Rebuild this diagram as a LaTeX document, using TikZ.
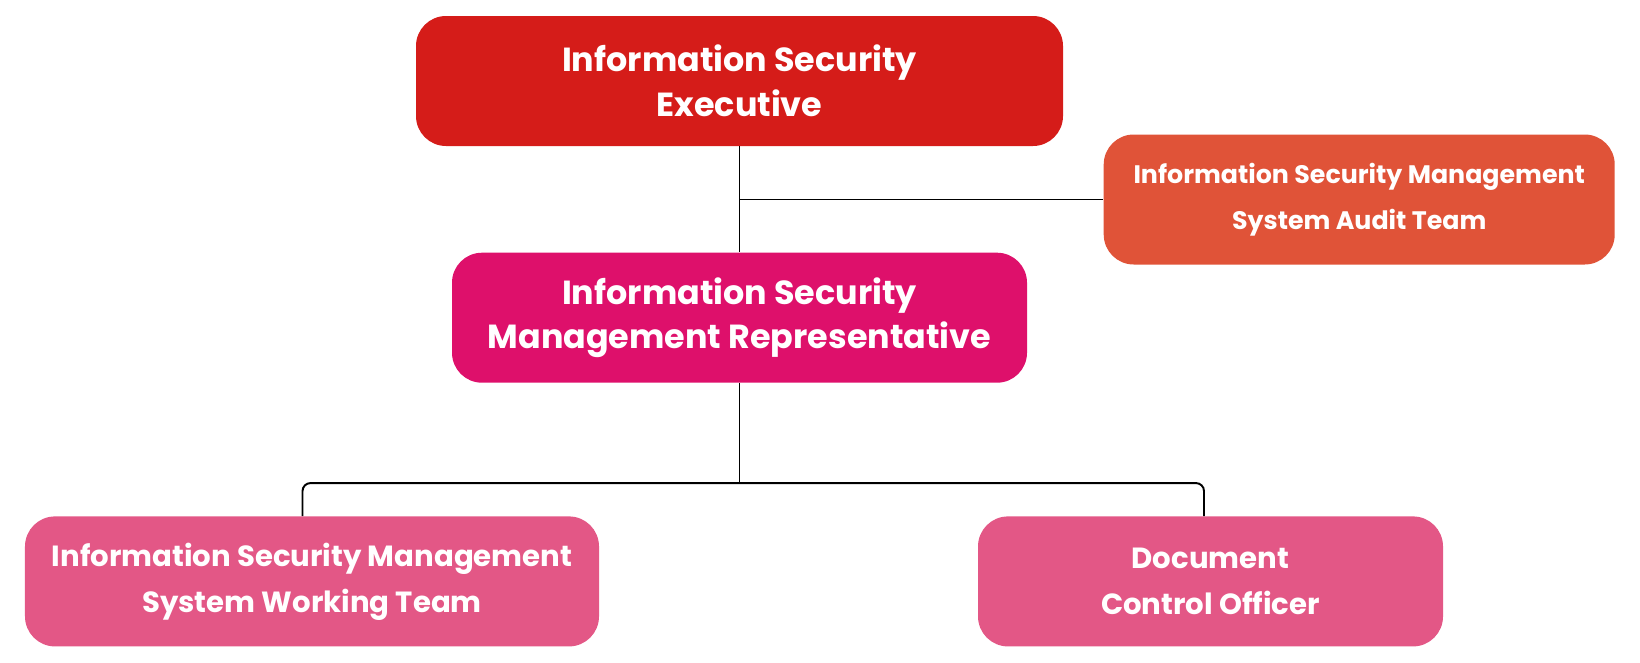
\documentclass[tikz,border=0pt]{standalone}
\usepackage{fontspec}
\setmainfont{Poppins}
\usetikzlibrary{positioning, calc}

\definecolor{execred}{HTML}{D51C19}
\definecolor{repmagenta}{HTML}{DE106B}
\definecolor{auditorange}{HTML}{E05338}
\definecolor{teampink}{HTML}{E35786}

\begin{document}
\begin{tikzpicture}[
    node distance=2.12cm and 0.8cm,
    unit/.style={rectangle, rounded corners=0.6cm, minimum height=2.6cm, inner sep=0pt, align=center, text=white},
    exec/.style={unit, fill=execred, minimum width=12.94cm, font=\fontsize{19}{25.6}\selectfont\bfseries},
    rep/.style={unit, fill=repmagenta, minimum width=11.5cm, font=\fontsize{19}{25.6}\selectfont\bfseries},
    audit/.style={unit, fill=auditorange, minimum width=10.22cm, font=\fontsize{14.4}{26.2}\selectfont\bfseries},
    team/.style={unit, fill=teampink, font=\fontsize{16.6}{26.2}\selectfont\bfseries},
    link/.style={draw=black, line width=1.1pt}
]
\useasboundingbox (0,0) rectangle (32.8,-13.24);

% Top of the chart
\node[exec] (exec) at (14.79,-1.62) {Information Security\\Executive};

% Audit team beside the executive
\node[audit, right=0.8cm of exec, yshift=-2.37cm] (audit) {Information Security Management\\System Audit Team};

% Representative
\node[rep, below=2.12cm of exec] (rep) {Information Security\\Management Representative};

% Teams under the representative
\node[team, minimum width=11.48cm, below=2.66cm of rep, xshift=-8.55cm] (work) {Information Security Management\\System Working Team};
\node[team, minimum width=9.3cm, below=2.66cm of rep, xshift=9.42cm] (doc) {Document\\Control Officer};

% Bus coordinate
\coordinate (bus) at ($(rep.south)+(0,-2)$);

% Connectors
\draw[link] (exec.south) -- (rep.north);
\draw[link] (exec.south |- audit.west) -- (audit.west);
\draw[link] (rep.south) -- (bus);
\draw[link, rounded corners=0.16cm] ([xshift=-0.19cm]work.north) |- (bus) -| ([xshift=-0.13cm]doc.north);

\end{tikzpicture}
\end{document}
